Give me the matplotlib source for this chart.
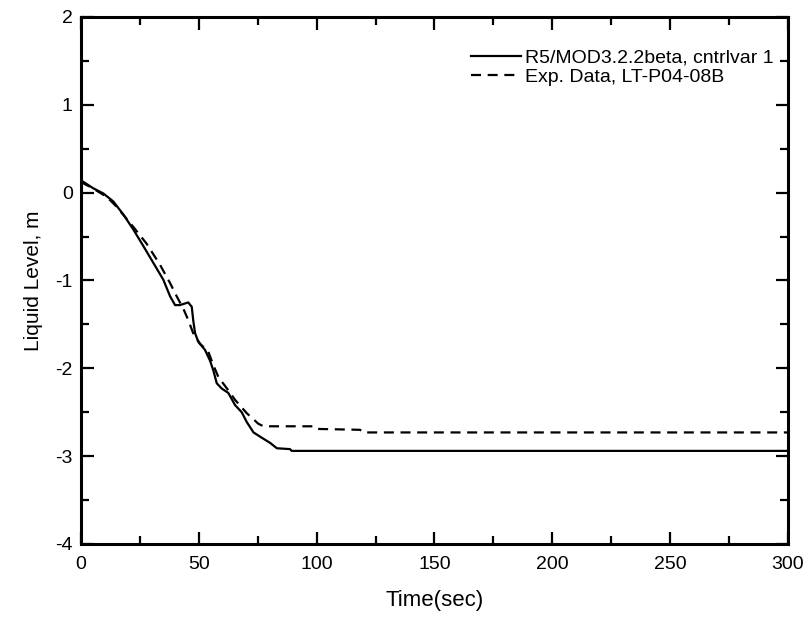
import matplotlib.pyplot as plt
from matplotlib.ticker import MultipleLocator

plt.rcParams['font.family'] = ['Liberation Sans', 'DejaVu Sans']
plt.rcParams['axes.unicode_minus'] = False

# R5/MOD3.2.2beta, cntrlvar 1
t_calc = [0, 5.2, 9.5, 13.7, 18, 22.2, 26.5, 30.7, 34.9, 37.8, 39.9, 42, 45.5,
          47, 47.6, 48.4, 49.8, 52.6, 54.7, 56.1, 57.6, 59.7, 62.5, 65.4, 68.2,
          70.3, 73.2, 76.7, 80.3, 83.1, 88.7, 89.4, 300]
y_calc = [0.14, 0.05, -0.01, -0.10, -0.25, -0.42, -0.61, -0.80, -0.99, -1.18,
          -1.28, -1.28, -1.25, -1.30, -1.45, -1.60, -1.70, -1.79, -1.91, -2.02,
          -2.17, -2.23, -2.28, -2.42, -2.50, -2.61, -2.73, -2.79, -2.85, -2.91,
          -2.92, -2.94, -2.94]

# Exp. Data, LT-P04-08B
t_exp = [0, 5, 8, 11, 15.1, 22.2, 27.8, 33.5, 37.8, 40.6, 43.4, 45.5, 47.6,
         50.5, 54, 56.1, 58.3, 62.5, 65.4, 70.3, 75.2, 77.4, 98.6, 100, 118.4,
         119.8, 300]
y_exp = [0.12, 0.05, 0.0, -0.05, -0.16, -0.39, -0.58, -0.82, -1.03, -1.18,
         -1.32, -1.45, -1.60, -1.72, -1.81, -1.96, -2.10, -2.25, -2.36, -2.51,
         -2.63, -2.66, -2.66, -2.69, -2.70, -2.73, -2.73]

fig = plt.figure(figsize=(8.11, 6.2), dpi=100)
ax = fig.add_axes([0.0999, 0.1226, 0.8717, 0.85])

ax.plot(t_calc, y_calc, color='black', lw=1.6, label='R5/MOD3.2.2beta, cntrlvar 1')
ax.plot(t_exp, y_exp, color='black', lw=1.6, linestyle=(0, (4.5, 3)),
        label='Exp. Data, LT-P04-08B')

ax.set_xlim(0, 300)
ax.set_ylim(-4, 2)
ax.xaxis.set_major_locator(MultipleLocator(50))
ax.xaxis.set_minor_locator(MultipleLocator(25))
ax.yaxis.set_major_locator(MultipleLocator(1))
ax.yaxis.set_minor_locator(MultipleLocator(0.5))
ax.tick_params(which='both', direction='in', top=True, right=True,
               labelsize=14, width=1.6)
ax.tick_params(axis='x', pad=9)
ax.tick_params(axis='y', pad=6)
ax.tick_params(which='major', length=9)
ax.tick_params(which='minor', length=5.5)
for s in ax.spines.values():
    s.set_linewidth(2.2)

ax.set_xlabel('Time(sec)', fontsize=16, labelpad=12)
ax.set_ylabel('Liquid Level, m', fontsize=15, labelpad=9)

fig.legend(loc='upper right', bbox_to_anchor=(0.954, 0.921), frameon=False,
           fontsize=14, handlelength=2.6, handletextpad=0.2, labelspacing=0.08,
           borderpad=0, borderaxespad=0)

fig.savefig('out.png', dpi=100)
